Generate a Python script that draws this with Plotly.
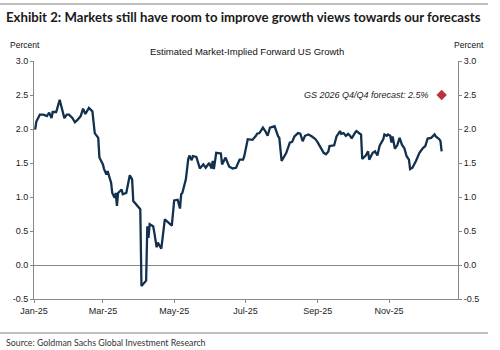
import plotly.graph_objects as go

dates = [
    "2025-01-02", "2025-01-03", "2025-01-06", "2025-01-09", "2025-01-12", "2025-01-14", "2025-01-16", "2025-01-17",
    "2025-01-20", "2025-01-23", "2025-01-24", "2025-01-27", "2025-01-29", "2025-01-31", "2025-02-03", "2025-02-05",
    "2025-02-07", "2025-02-10", "2025-02-12", "2025-02-14", "2025-02-17", "2025-02-20", "2025-02-22", "2025-02-25",
    "2025-02-26", "2025-03-01", "2025-03-02", "2025-03-04", "2025-03-05", "2025-03-07", "2025-03-08", "2025-03-09",
    "2025-03-11", "2025-03-12", "2025-03-13", "2025-03-14", "2025-03-17", "2025-03-18", "2025-03-21", "2025-03-24",
    "2025-03-26", "2025-03-27", "2025-03-31", "2025-04-02", "2025-04-03", "2025-04-06", "2025-04-07", "2025-04-08",
    "2025-04-09", "2025-04-10", "2025-04-13", "2025-04-14", "2025-04-16", "2025-04-17", "2025-04-20", "2025-04-23",
    "2025-04-26", "2025-04-29", "2025-05-01", "2025-05-04", "2025-05-06", "2025-05-07", "2025-05-08", "2025-05-11",
    "2025-05-13", "2025-05-14", "2025-05-16", "2025-05-17", "2025-05-20", "2025-05-23", "2025-05-26", "2025-05-28",
    "2025-05-31", "2025-06-02", "2025-06-03", "2025-06-04", "2025-06-06", "2025-06-09", "2025-06-10", "2025-06-11",
    "2025-06-14", "2025-06-17", "2025-06-20", "2025-06-23", "2025-06-26", "2025-06-29", "2025-06-30", "2025-07-03",
    "2025-07-07", "2025-07-10", "2025-07-11", "2025-07-13", "2025-07-16", "2025-07-18", "2025-07-20", "2025-07-22",
    "2025-07-26", "2025-07-29", "2025-07-30", "2025-08-01", "2025-08-03", "2025-08-05", "2025-08-08", "2025-08-10",
    "2025-08-12", "2025-08-15", "2025-08-17", "2025-08-19", "2025-08-21", "2025-08-24", "2025-08-27", "2025-08-30",
    "2025-09-01", "2025-09-04", "2025-09-06", "2025-09-08", "2025-09-10", "2025-09-11", "2025-09-14", "2025-09-15",
    "2025-09-17", "2025-09-20", "2025-09-21", "2025-09-23", "2025-09-25", "2025-09-27", "2025-09-29", "2025-09-30",
    "2025-10-03", "2025-10-04", "2025-10-07", "2025-10-08", "2025-10-09", "2025-10-12", "2025-10-14", "2025-10-15",
    "2025-10-18", "2025-10-20", "2025-10-22", "2025-10-24", "2025-10-27", "2025-10-28", "2025-10-30", "2025-10-31",
    "2025-11-02", "2025-11-03", "2025-11-04", "2025-11-06", "2025-11-08", "2025-11-10", "2025-11-12", "2025-11-14",
    "2025-11-16", "2025-11-18", "2025-11-19", "2025-11-21", "2025-11-24", "2025-11-27", "2025-11-30", "2025-12-02",
    "2025-12-04", "2025-12-07", "2025-12-10", "2025-12-11", "2025-12-14", "2025-12-15", "2025-12-16",
]

growth = [
    1.99, 2.11, 2.21, 2.21, 2.19, 2.24, 2.16, 2.25,
    2.25, 2.43, 2.36, 2.16, 2.21, 2.21, 2.16, 2.10,
    2.13, 2.19, 2.30, 2.22, 2.31, 2.26, 1.94, 1.87,
    1.58, 1.48, 1.41, 1.33, 1.38, 1.26, 1.21, 1.06,
    0.99, 1.06, 0.87, 1.06, 1.11, 1.04, 1.06, 1.32,
    1.26, 0.94, 0.87, 0.82, -0.31, -0.26, -0.23, 0.57,
    0.40, 0.60, 0.57, 0.48, 0.26, 0.33, 0.24, 0.67,
    0.63, 0.58, 0.95, 0.96, 0.83, 1.04, 1.06, 1.26,
    1.55, 1.61, 1.54, 1.60, 1.59, 1.42, 1.48, 1.43,
    1.50, 1.42, 1.53, 1.41, 1.65, 1.65, 1.64, 1.48,
    1.58, 1.45, 1.42, 1.43, 1.55, 1.55, 1.60, 1.85,
    1.84, 1.90, 1.93, 1.94, 2.02, 1.97, 1.90, 2.02,
    2.04, 1.89, 1.87, 1.53, 1.60, 1.65, 1.80, 1.81,
    1.89, 1.94, 1.93, 1.82, 1.90, 1.92, 1.89, 1.85,
    1.80, 1.72, 1.65, 1.63, 1.67, 1.75, 1.76, 1.76,
    1.89, 1.97, 1.93, 1.94, 1.90, 1.93, 1.89, 1.86,
    1.95, 1.97, 1.93, 1.92, 1.56, 1.61, 1.67, 1.55,
    1.65, 1.67, 1.61, 1.76, 1.85, 1.92, 1.90, 1.92,
    1.90, 1.80, 1.89, 1.71, 1.76, 1.87, 1.77, 1.72,
    1.60, 1.55, 1.41, 1.43, 1.53, 1.65, 1.72, 1.75,
    1.86, 1.87, 1.92, 1.89, 1.85, 1.82, 1.67,
]

forecast_date = ["2025-12-16"]
forecast_value = [2.5]
forecast_label = "GS 2026 Q4/Q4 forecast: 2.5%"

y_ticks = [-0.5, 0.0, 0.5, 1.0, 1.5, 2.0, 2.5, 3.0]
y_ticklabels = ["-0.5", "0.0", "0.5", "1.0", "1.5", "2.0", "2.5", "3.0"]

title = "Exhibit 2: Markets still have room to improve growth views towards our forecasts"
subtitle = "Estimated Market-Implied Forward US Growth"
source = "Source: Goldman Sachs Global Investment Research"

W, H = 500, 350
L, R, T, B = 34, 458, 61, 299

fig = go.Figure()
fig.add_trace(go.Scatter(
    x=dates, y=growth, mode="lines",
    line=dict(color="#13304f", width=2.3),
    showlegend=False, hoverinfo="skip",
))
fig.add_trace(go.Scatter(
    x=forecast_date, y=forecast_value, mode="markers",
    marker=dict(symbol="diamond", size=8, color="#b8343e"),
    showlegend=False, yaxis="y2", hoverinfo="skip",
))

axis_font = dict(family="Arial, Liberation Sans, sans-serif", size=9, color="#222")


def px_y(py):
    return (H - py - (H - B)) / (B - T)


def px_x(px):
    return (px - L) / (R - L)


fig.update_layout(
    width=W, height=H,
    margin=dict(l=L, r=W - R, t=T, b=H - B, autoexpand=False),
    paper_bgcolor="white", plot_bgcolor="white",
    xaxis=dict(
        type="date", range=["2025-01-01", "2025-12-30"],
        tick0="2025-01-01", dtick="M2", tickformat="%b-%y",
        showgrid=False, zeroline=False,
        showline=True, linecolor="#888", linewidth=1,
        ticks="outside", ticklen=3, tickcolor="#888",
        tickfont=axis_font,
    ),
    yaxis=dict(
        range=[-0.5, 3.0], tickvals=y_ticks, ticktext=y_ticklabels,
        showgrid=False, zeroline=True, zerolinecolor="#888", zerolinewidth=1,
        showline=True, linecolor="#888", linewidth=1,
        ticks="outside", ticklen=3, tickcolor="#888",
        tickfont=axis_font,
    ),
    yaxis2=dict(
        range=[-0.5, 3.0], tickvals=y_ticks, ticktext=y_ticklabels,
        overlaying="y", side="right",
        showgrid=False, zeroline=False,
        showline=True, linecolor="#888", linewidth=1,
        ticks="outside", ticklen=3, tickcolor="#888",
        tickfont=axis_font,
    ),
    shapes=[
        dict(type="line", xref="paper", yref="paper", x0=px_x(0), x1=px_x(488),
             y0=px_y(4), y1=px_y(4), line=dict(color="#aaaaaa", width=1.5)),
        dict(type="line", xref="paper", yref="paper", x0=px_x(0), x1=px_x(488),
             y0=px_y(333), y1=px_y(333), line=dict(color="#aaaaaa", width=1.5)),
    ],
    annotations=[
        dict(text="<b>" + title + "</b>", xref="paper", yref="paper",
             x=px_x(4), y=px_y(17), xanchor="left", yanchor="middle", showarrow=False,
             font=dict(family="Lato, sans-serif", size=13.2, color="#1a1a1a")),
        dict(text=subtitle, xref="paper", yref="paper",
             x=px_x(247), y=px_y(52), xanchor="center", yanchor="middle", showarrow=False,
             font=dict(family="Arial, Liberation Sans, sans-serif", size=9.5, color="#111")),
        dict(text="Percent", xref="paper", yref="paper",
             x=px_x(25), y=px_y(45), xanchor="center", yanchor="middle", showarrow=False,
             font=dict(family="Arial, Liberation Sans, sans-serif", size=8.5, color="#111")),
        dict(text="Percent", xref="paper", yref="paper",
             x=px_x(469), y=px_y(45), xanchor="center", yanchor="middle", showarrow=False,
             font=dict(family="Arial, Liberation Sans, sans-serif", size=8.5, color="#111")),
        dict(text="<i>" + forecast_label + "</i>", xref="paper", yref="y",
             x=px_x(431), y=forecast_value[0], xanchor="right", yanchor="middle", showarrow=False,
             font=dict(family="Arial, Liberation Sans, sans-serif", size=9, color="#222")),
        dict(text=source, xref="paper", yref="paper",
             x=px_x(4), y=px_y(342), xanchor="left", yanchor="middle", showarrow=False,
             font=dict(family="Lato, sans-serif", size=8.8, color="#333")),
    ],
)

fig.write_html("out.html")
